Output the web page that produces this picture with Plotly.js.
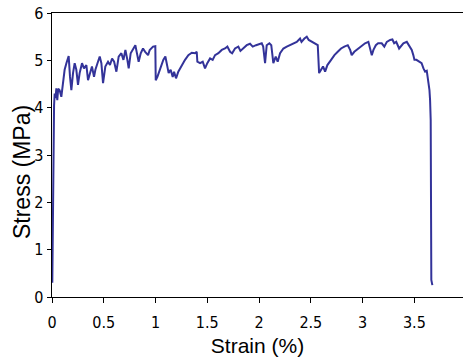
<!DOCTYPE html>
<html>
<head>
<meta charset="utf-8">
<script src="https://cdn.plot.ly/plotly-3.0.1.min.js"></script>
<style>html,body{margin:0;padding:0;background:#fff;}#chart{width:463px;height:360px;}</style>
</head>
<body>
<div id="chart"></div>
<script>
const strain = [0.003,0.006,0.009,0.012,0.015,0.020,0.026,0.034,0.042,0.051,0.060,0.074,0.090,0.106,0.122,0.139,0.161,0.174,0.187,0.203,0.219,0.235,0.251,0.267,0.290,0.309,0.332,0.348,0.364,0.386,0.406,0.419,0.444,0.461,0.477,0.493,0.515,0.541,0.560,0.580,0.600,0.622,0.644,0.670,0.690,0.709,0.728,0.741,0.760,0.783,0.805,0.824,0.837,0.857,0.879,0.900,0.928,0.944,0.976,0.998,1.002,1.018,1.043,1.075,1.095,1.114,1.127,1.146,1.166,1.179,1.198,1.220,1.253,1.285,1.317,1.350,1.382,1.398,1.404,1.430,1.456,1.478,1.500,1.527,1.552,1.575,1.607,1.640,1.671,1.694,1.720,1.740,1.768,1.800,1.820,1.848,1.881,1.913,1.939,1.971,1.994,2.026,2.040,2.058,2.074,2.100,2.118,2.138,2.161,2.180,2.203,2.235,2.268,2.300,2.330,2.364,2.396,2.410,2.438,2.461,2.480,2.509,2.541,2.567,2.580,2.596,2.618,2.638,2.660,2.696,2.728,2.760,2.792,2.824,2.857,2.880,2.895,2.920,2.960,2.992,3.024,3.056,3.070,3.089,3.105,3.128,3.150,3.185,3.210,3.234,3.266,3.288,3.305,3.325,3.353,3.370,3.394,3.427,3.450,3.475,3.490,3.501,3.520,3.556,3.570,3.588,3.604,3.620,3.636,3.646,3.652,3.656,3.658,3.664,3.674];
const stress = [0.30,1.30,2.50,3.50,3.80,4.05,4.30,4.20,4.41,4.16,4.40,4.37,4.23,4.58,4.80,4.94,5.09,4.65,4.37,4.73,4.94,4.80,4.48,4.73,4.94,4.83,4.90,4.58,4.73,4.87,4.65,4.80,4.97,5.08,4.94,4.52,4.87,4.97,4.90,5.04,4.97,4.76,5.08,5.15,5.01,5.22,5.01,4.83,5.15,5.25,5.32,5.11,4.97,5.15,5.25,5.18,5.11,5.22,5.29,5.30,4.58,4.65,4.83,5.01,5.08,4.90,4.73,4.80,4.65,4.76,4.62,4.76,4.90,5.01,5.11,5.16,5.15,5.18,4.97,4.94,4.97,4.83,4.94,5.04,5.01,5.11,5.15,5.22,5.25,5.29,5.18,5.15,5.25,5.29,5.20,5.25,5.32,5.35,5.29,5.32,5.34,5.36,5.29,4.94,5.32,5.36,5.32,4.94,5.08,4.97,5.15,5.25,5.29,5.32,5.36,5.39,5.46,5.39,5.46,5.50,5.43,5.39,5.36,5.32,4.73,4.80,4.87,4.76,4.90,5.01,5.11,5.18,5.25,5.29,5.32,5.22,5.11,5.18,5.25,5.30,5.36,5.39,5.25,5.11,5.22,5.32,5.36,5.36,5.29,5.39,5.43,5.44,5.36,5.39,5.25,5.29,5.36,5.39,5.32,5.22,5.11,5.01,5.01,4.97,4.94,4.83,4.76,4.78,4.58,4.37,4.16,3.95,3.74,0.36,0.25];
const xTicks = [0,0.5,1,1.5,2,2.5,3,3.5];
const yTicks = [0,1,2,3,4,5,6];
const xTitle = 'Strain (%)';
const yTitle = 'Stress (MPa)';

const tickFont = {family:'"Liberation Sans Narrow","DejaVu Sans Condensed","Liberation Sans",Arial,sans-serif', size:16, color:'#000'};
const titleFont = {family:'"Liberation Sans",Arial,sans-serif', size:21, color:'#000'};

Plotly.newPlot('chart', [{
  x: strain, y: stress, type:'scatter', mode:'lines',
  line:{color:'#333399', width:2}, hoverinfo:'skip'
}], {
  width:463, height:360,
  margin:{l:52, r:0, t:13, b:63, pad:0},
  paper_bgcolor:'#fff', plot_bgcolor:'#fff',
  showlegend:false,
  xaxis:{range:[0,3.97], tickvals:xTicks, ticktext:xTicks.map(String), showgrid:false, zeroline:false,
    showline:true, linecolor:'#000', linewidth:1.3, mirror:true, ticks:'outside', ticklen:5, tickcolor:'#000',
    tickfont:tickFont, ticklabelstandoff:5,
    title:{text:xTitle, font:titleFont, standoff:7}},
  yaxis:{range:[0,6], tickvals:yTicks, ticktext:yTicks.map(String), showgrid:false, zeroline:false,
    showline:true, linecolor:'#000', linewidth:1.3, ticks:'outside', ticklen:4, tickcolor:'#000',
    tickfont:tickFont},
  annotations:[{text:yTitle, xref:'paper', yref:'paper', x:-0.073, y:0.44, xanchor:'center', yanchor:'middle',
    textangle:-90, showarrow:false, font:{family:titleFont.family, size:23, color:'#000'}}]
}, {staticPlot:true, displayModeBar:false});
</script>
</body>
</html>
